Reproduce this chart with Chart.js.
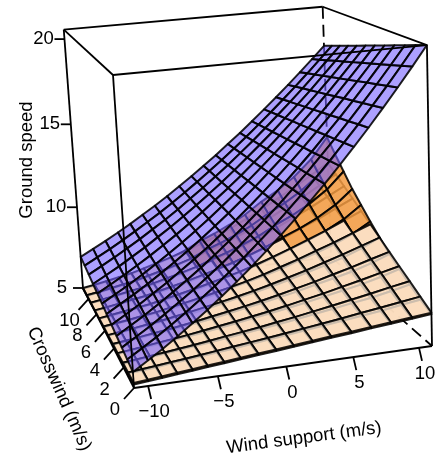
<!DOCTYPE html>
<html>
<head>
<meta charset="utf-8">
<style>
  html, body { margin: 0; padding: 0; background: #fff; }
  canvas { display: block; }
</style>
<script src="https://cdn.jsdelivr.net/npm/chart.js@4"></script>
</head>
<body>
<canvas id="surface" width="435" height="462"></canvas>
<script>
// purple surface grid: one row per crosswind value, one column per wind support value
const windSupport = [-11, -9.9, -8.8, -7.7, -6.6, -5.5, -4.4, -3.3, -2.2, -1.1, 0, 1.1, 2.2, 3.3, 4.4, 5.5, 6.6, 7.7, 8.8, 9.9, 11];
// the two low surfaces have wider cells towards the tail wind side
const lowWindSupport = [-11, -10, -9, -7.9, -6.8, -5.7, -4.5, -3.3, -2, -0.7, 0.6, 2, 3.4, 4.9, 6.4, 7.9, 9.5, 11];
const crosswind = [0, 1.05, 2.09, 3.14, 4.18, 5.23, 6.27, 7.32, 8.36, 9.41, 10.45, 11.5];

const windTicks = [-10, -5, 0, 5, 10];
const crossTicks = [0, 2, 4, 6, 8, 10];
const speedTicks = [5, 10, 15, 20];

const orangeSpeed = [
  [5.18,5.25,5.32,5.40,5.47,5.55,5.63,5.72,5.81,5.90,5.99,6.09,6.19,6.29,6.40,6.50,6.62,6.72],
  [5.17,5.24,5.31,5.40,5.47,5.56,5.65,5.74,5.85,5.96,6.06,6.18,6.30,6.43,6.56,6.69,6.86,7.01],
  [5.15,5.23,5.31,5.39,5.48,5.57,5.66,5.77,5.89,6.02,6.14,6.28,6.43,6.59,6.76,6.92,7.14,7.37],
  [5.14,5.22,5.30,5.39,5.48,5.58,5.68,5.81,5.95,6.10,6.24,6.40,6.58,6.78,6.98,7.19,7.47,7.78],
  [5.12,5.20,5.29,5.39,5.48,5.59,5.71,5.84,6.00,6.18,6.34,6.53,6.73,6.98,7.21,7.46,7.80,8.19],
  [5.10,5.19,5.28,5.38,5.49,5.60,5.73,5.88,6.07,6.28,6.46,6.68,6.92,7.22,7.50,7.81,8.22,8.72],
  [5.08,5.17,5.27,5.38,5.49,5.61,5.76,5.93,6.13,6.38,6.59,6.84,7.11,7.47,7.79,8.16,8.65,9.25],
  [5.06,5.15,5.26,5.37,5.50,5.62,5.79,5.97,6.21,6.49,6.73,7.01,7.33,7.74,8.11,8.54,9.12,9.84],
  [5.04,5.14,5.24,5.37,5.50,5.64,5.82,6.02,6.28,6.61,6.87,7.19,7.54,8.02,8.43,8.93,9.59,10.42],
  [5.01,5.11,5.23,5.36,5.51,5.66,5.86,6.08,6.37,6.74,7.03,7.40,7.80,8.35,8.82,9.39,10.15,11.13],
  [4.98,5.09,5.22,5.36,5.51,5.67,5.89,6.14,6.46,6.87,7.20,7.60,8.06,8.67,9.21,9.85,10.72,11.84],
  [4.95,5.07,5.20,5.35,5.52,5.69,5.93,6.20,6.56,7.02,7.38,7.83,8.34,9.03,9.63,10.35,11.33,12.60]
];

const peachSpeed = [
  [5.26,5.33,5.40,5.48,5.55,5.63,5.71,5.80,5.89,5.98,6.07,6.17,6.27,6.37,6.48,6.58,6.70,6.80],
  [5.24,5.31,5.39,5.47,5.55,5.64,5.74,5.84,5.95,6.06,6.17,6.30,6.43,6.57,6.72,6.86,7.03,7.18],
  [5.21,5.29,5.37,5.46,5.55,5.65,5.76,5.88,6.00,6.13,6.27,6.42,6.59,6.77,6.96,7.15,7.37,7.56],
  [5.19,5.27,5.36,5.46,5.55,5.66,5.79,5.92,6.06,6.21,6.37,6.55,6.75,6.96,7.20,7.43,7.70,7.94],
  [5.16,5.25,5.34,5.45,5.55,5.67,5.81,5.96,6.12,6.29,6.47,6.68,6.91,7.16,7.44,7.71,8.03,8.32],
  [5.14,5.23,5.33,5.44,5.55,5.69,5.84,6.00,6.18,6.37,6.57,6.81,7.07,7.36,7.68,8.00,8.37,8.71],
  [5.12,5.21,5.31,5.43,5.54,5.70,5.86,6.03,6.23,6.44,6.66,6.93,7.23,7.56,7.92,8.28,8.70,9.09],
  [5.09,5.19,5.30,5.42,5.54,5.71,5.89,6.07,6.29,6.52,6.76,7.06,7.39,7.76,8.16,8.56,9.03,9.47],
  [5.07,5.17,5.28,5.42,5.54,5.72,5.91,6.11,6.35,6.60,6.86,7.19,7.55,7.95,8.40,8.84,9.36,9.85],
  [5.04,5.15,5.27,5.41,5.54,5.73,5.94,6.15,6.40,6.67,6.96,7.31,7.71,8.15,8.64,9.13,9.70,10.23],
  [5.02,5.13,5.25,5.40,5.54,5.74,5.96,6.19,6.46,6.75,7.06,7.44,7.87,8.35,8.88,9.41,10.03,10.61],
  [5.00,5.11,5.24,5.39,5.54,5.75,5.99,6.23,6.52,6.83,7.16,7.57,8.03,8.55,9.12,9.69,10.36,10.99]
];

const purpleSpeed = [
  [5.83,6.32,6.82,7.36,7.92,8.51,9.12,9.76,10.43,11.13,11.85,12.60,13.38,14.18,15.01,15.87,16.75,17.66,18.60,19.56,20.55],
  [5.93,6.41,6.90,7.43,7.98,8.56,9.16,9.79,10.44,11.13,11.83,12.57,13.33,14.11,14.92,15.77,16.63,17.51,18.43,19.37,20.34],
  [6.03,6.51,6.99,7.51,8.05,8.61,9.20,9.81,10.46,11.13,11.82,12.53,13.28,14.04,14.84,15.66,16.50,17.37,18.26,19.18,20.12],
  [6.13,6.60,7.07,7.58,8.11,8.67,9.24,9.84,10.47,11.12,11.80,12.50,13.23,13.98,14.75,15.56,16.38,17.22,18.10,18.99,19.91],
  [6.23,6.69,7.16,7.66,8.17,8.72,9.28,9.86,10.48,11.12,11.78,12.46,13.18,13.91,14.67,15.45,16.25,17.08,17.93,18.80,19.69],
  [6.34,6.79,7.24,7.73,8.24,8.77,9.32,9.89,10.50,11.12,11.77,12.43,13.13,13.84,14.58,15.35,16.13,16.93,17.76,18.61,19.48],
  [6.44,6.88,7.32,7.80,8.30,8.82,9.35,9.92,10.51,11.12,11.75,12.40,13.08,13.77,14.49,15.24,16.00,16.78,17.59,18.42,19.27],
  [6.54,6.97,7.41,7.88,8.36,8.87,9.39,9.94,10.52,11.12,11.73,12.36,13.03,13.70,14.41,15.14,15.88,16.64,17.42,18.23,19.05],
  [6.64,7.06,7.49,7.95,8.42,8.93,9.43,9.97,10.53,11.11,11.71,12.33,12.98,13.64,14.32,15.03,15.75,16.49,17.26,18.04,18.84],
  [6.74,7.16,7.58,8.03,8.49,8.98,9.47,9.99,10.55,11.11,11.70,12.29,12.93,13.57,14.24,14.93,15.63,16.35,17.09,17.85,18.62],
  [6.84,7.25,7.66,8.10,8.55,9.03,9.51,10.02,10.56,11.11,11.68,12.26,12.88,13.50,14.15,14.82,15.50,16.20,16.92,17.66,18.41],
  [6.94,7.34,7.74,8.17,8.61,9.08,9.55,10.05,10.57,11.11,11.66,12.23,12.83,13.43,14.06,14.71,15.37,16.05,16.75,17.47,18.20]
];

// box limits of the 3d axes
const xLim = [-11, 11];
const yLim = [0, 11.5];
const zLim = [5, 20.55];

// perspective of the box: corner pixels and how much each direction shrinks
const corner0 = [134, 388];
const cornerX = [432, 346];
const cornerY = [83, 288];
const cornerZ = [113, 75];
const persp = [0.045, 0.22, -0.05];

function depth(x, y, z) {
  const u = (x - xLim[0]) / (xLim[1] - xLim[0]);
  const v = (y - yLim[0]) / (yLim[1] - yLim[0]);
  const w = (z - zLim[0]) / (zLim[1] - zLim[0]);
  return 1 + persp[0] * u + persp[1] * v + persp[2] * w;
}

function project(x, y, z) {
  const u = (x - xLim[0]) / (xLim[1] - xLim[0]);
  const v = (y - yLim[0]) / (yLim[1] - yLim[0]);
  const w = (z - zLim[0]) / (zLim[1] - zLim[0]);
  const d = depth(x, y, z);
  const axis = i => (corner0[i]
    + u * ((1 + persp[0]) * cornerX[i] - corner0[i])
    + v * ((1 + persp[1]) * cornerY[i] - corner0[i])
    + w * ((1 + persp[2]) * cornerZ[i] - corner0[i])) / d;
  return { x: axis(0), y: axis(1) };
}

function lineSet(points, extra) {
  return Object.assign({
    data: points,
    borderColor: "#000",
    borderWidth: 1.8,
    pointRadius: 0,
    fill: false,
    tension: 0,
    borderCapStyle: "butt"
  }, extra);
}

function cellSets(columns, speed, fillColor) {
  const cells = [];
  for (let j = 0; j < crosswind.length - 1; j++) {
    for (let i = 0; i < columns.length - 1; i++) {
      const pts = [[i, j], [i + 1, j], [i + 1, j + 1], [i, j + 1], [i, j]];
      const mean = pts.slice(0, 4).reduce((s, p) => s + depth(columns[p[0]], crosswind[p[1]], speed[p[1]][p[0]]), 0) / 4;
      cells.push({
        mean: mean,
        set: lineSet(pts.map(p => project(columns[p[0]], crosswind[p[1]], speed[p[1]][p[0]])), {
          fill: "shape",
          backgroundColor: fillColor,
          borderColor: "rgba(0,0,0,0.88)",
          borderWidth: 2,
          borderJoinStyle: "round"
        })
      });
    }
  }
  return cells;
}

const [x0, x1] = xLim, [y0, y1] = yLim, [z0, z1] = zLim;

// hidden edges go first, under the surfaces
const drawOrder = [
  lineSet([project(x1, y1, z1), project(x1, y1, z0)], { borderDash: [12, 6] }),
  lineSet([project(x1, y1, z0), project(x1, y0, z0)], { borderDash: [12, 6] }),
  lineSet([project(x1, y1, z0), project(x0, y1, z0)], { borderDash: [12, 6] })
];

// the two low surfaces cross each other, so sort their cells together
cellSets(lowWindSupport, orangeSpeed, "rgba(243,155,66,0.85)")
  .concat(cellSets(lowWindSupport, peachSpeed, "rgba(253,235,216,0.8)"))
  .sort((a, b) => b.mean - a.mean)
  .forEach(c => drawOrder.push(c.set));
cellSets(windSupport, purpleSpeed, "rgba(117,97,255,0.6)")
  .sort((a, b) => b.mean - a.mean)
  .forEach(c => drawOrder.push(c.set));

// visible box edges
[
  [[x0, y0, z0], [x1, y0, z0]],
  [[x0, y0, z0], [x0, y1, z0]],
  [[x0, y0, z0], [x0, y0, z1]],
  [[x1, y0, z0], [x1, y0, z1]],
  [[x0, y1, z0], [x0, y1, z1]],
  [[x0, y0, z1], [x1, y0, z1]],
  [[x0, y0, z1], [x0, y1, z1]],
  [[x1, y0, z1], [x1, y1, z1]],
  [[x0, y1, z1], [x1, y1, z1]]
].forEach(e => drawOrder.push(lineSet([project(...e[0]), project(...e[1])])));

const labels = [];

windTicks.forEach(t => {
  const p = project(t, y0, z0);
  drawOrder.push(lineSet([p, { x: p.x + 3, y: p.y + 13 }]));
  labels.push({ text: String(t).replace("-", "\u2212"), x: p.x + 6, y: p.y + 26, angle: 0 });
});
crossTicks.forEach(t => {
  const p = project(x0, t, z0);
  drawOrder.push(lineSet([p, { x: p.x - 10, y: p.y + 11 }]));
  labels.push({ text: String(t), x: p.x - 19, y: p.y + 22, angle: 0 });
});
speedTicks.forEach(t => {
  const p = project(x0, y1, t);
  drawOrder.push(lineSet([p, { x: p.x - 10, y: p.y }]));
  labels.push({ text: String(t), x: p.x - 21, y: p.y, angle: 0 });
});
labels.push({ text: "Ground speed", x: 27, y: 160, angle: -90 });
labels.push({ text: "Crosswind (m/s)", x: 59, y: 389, angle: 66 });
labels.push({ text: "Wind support (m/s)", x: 304, y: 438, angle: -7.5 });

const axisText = {
  id: "axisText",
  afterDraw(chart) {
    const ctx = chart.ctx;
    ctx.save();
    ctx.fillStyle = "#000";
    ctx.font = "18.5px 'Liberation Sans'";
    ctx.textAlign = "center";
    ctx.textBaseline = "middle";
    labels.forEach(l => {
      ctx.save();
      ctx.translate(l.x, l.y);
      ctx.rotate(l.angle * Math.PI / 180);
      ctx.fillText(l.text, 0, 0);
      ctx.restore();
    });
    ctx.restore();
  }
};

// chart.js paints the first dataset on top
new Chart(document.getElementById("surface"), {
  type: "line",
  data: { datasets: drawOrder.slice().reverse() },
  plugins: [axisText],
  options: {
    responsive: false,
    animation: false,
    events: [],
    layout: { padding: 0 },
    plugins: { legend: { display: false }, tooltip: { enabled: false } },
    scales: {
      x: { type: "linear", display: false, min: 0, max: 435 },
      y: { type: "linear", display: false, min: 0, max: 462, reverse: true }
    }
  }
});
</script>
</body>
</html>
